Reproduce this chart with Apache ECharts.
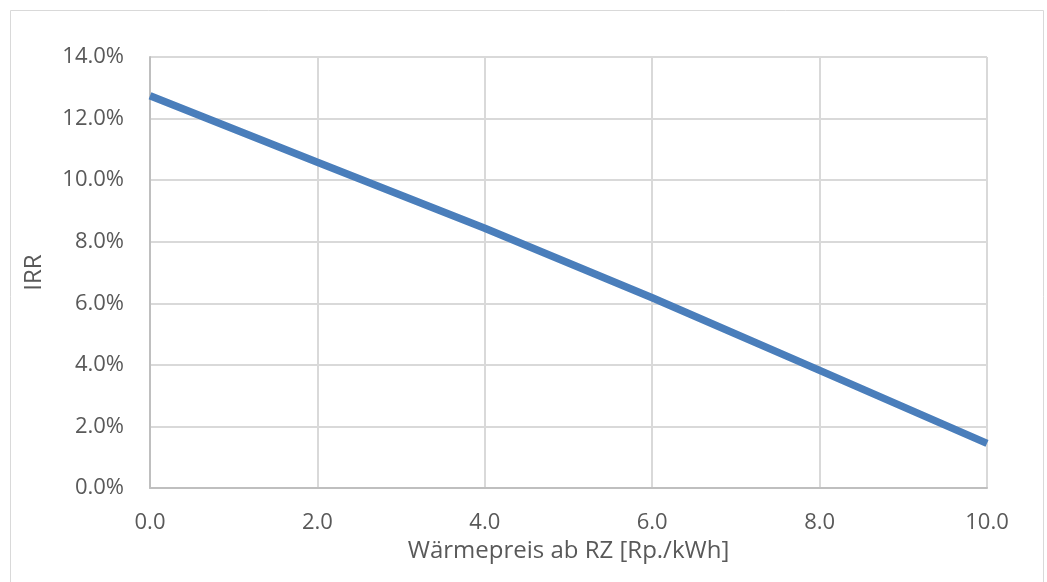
<!DOCTYPE html>
<html><head><meta charset="utf-8">
<script src="https://cdn.jsdelivr.net/npm/echarts@6/dist/echarts.min.js"></script>
<style>html,body{margin:0;padding:0;background:#fff}#c{width:1047px;height:582px}</style>
</head><body><div id="c"></div>
<script>
const xValues = [0, 2, 4, 6, 8, 10];
const irrValues = [0.1274, 0.1058, 0.0844, 0.0618, 0.0382, 0.0145];
const xTitle = 'Wärmepreis ab RZ [Rp./kWh]';
const yTitle = 'IRR';

const chart = echarts.init(document.getElementById('c'));
const font = '"Open Sans", "Noto Sans", sans-serif';
chart.setOption({
  animation: false,
  backgroundColor: '#fff',
  graphic: [{type:'rect', shape:{x:10.5,y:10.5,width:1033,height:580}, style:{fill:'none', stroke:'#d9d9d9', lineWidth:1}}],
  grid: {left:150, right:60, top:57, bottom:94},
  xAxis: {
    type:'value', min:0, max:10, interval:2,
    name:xTitle, nameLocation:'middle', nameGap:51,
    nameTextStyle:{fontFamily:font, fontSize:24, color:'#595959'},
    axisLine:{show:true, lineStyle:{color:'#bfbfbf', width:2}},
    axisTick:{show:false},
    axisLabel:{fontFamily:font, fontSize:22, color:'#595959', margin:24, formatter:v=>v.toFixed(1)},
    splitLine:{show:true, lineStyle:{color:'#d9d9d9', width:2}}
  },
  yAxis: {
    type:'value', min:0, max:0.14, interval:0.02,
    name:yTitle, nameLocation:'middle', nameGap:104, nameRotate:90,
    nameTextStyle:{fontFamily:font, fontSize:24, color:'#595959'},
    axisLine:{show:true, lineStyle:{color:'#bfbfbf', width:2}},
    axisTick:{show:false},
    axisLabel:{fontFamily:font, fontSize:22, color:'#595959', margin:26, formatter:v=>(v*100).toFixed(1)+'%'},
    splitLine:{show:true, lineStyle:{color:'#d9d9d9', width:2}}
  },
  series: [{
    type:'line', data:xValues.map((x,i)=>[x, irrValues[i]]),
    showSymbol:false, symbol:'none',
    lineStyle:{color:'#4a7ebb', width:7.5, cap:'butt'}
  }]
});
</script></body></html>
